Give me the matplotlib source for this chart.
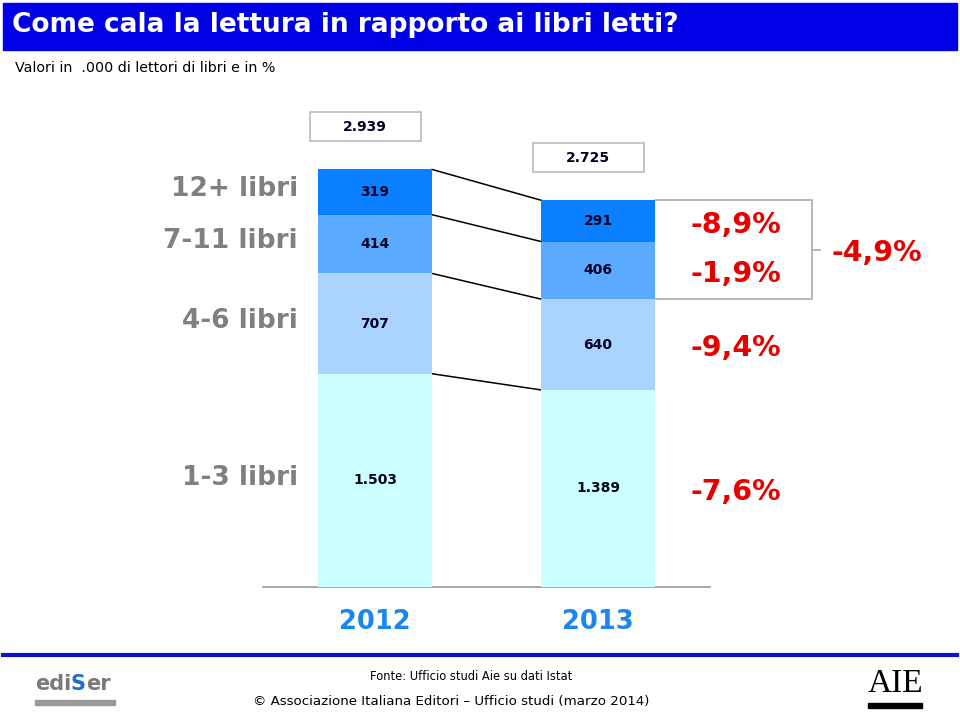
import matplotlib
matplotlib.use('Agg')
import matplotlib.pyplot as plt
from matplotlib.patches import Rectangle

# dati (migliaia di lettori)
categories = ['1-3 libri', '4-6 libri', '7-11 libri', '12+ libri']
years = ['2012', '2013']
v2012 = [1503, 707, 414, 319]
v2013 = [1389, 640, 406, 291]
totals = ['2.939', '2.725']
pct_labels = ['-7,6%', '-9,4%', '-1,9%', '-8,9%']
pct_top2 = '-4,9%'

colors = ['#CCFFFF', '#AAD4FF', '#5AAAFF', '#0A80FF']

W, H = 960, 714
fig = plt.figure(figsize=(W / 100, H / 100), dpi=100)

def fx(p):
    return p / W

def fy(p):
    return 1 - p / H

# scala: px per migliaio, baseline a 587 px dall'alto
k = 417 / 2939
ax = fig.add_axes([0, 0, 1, 1])
ax.set_xlim(0, W)
ax.set_ylim(-(H - 587) / k, 587 / k)
ax.axis('off')

xc = [375, 598]
bw = 114
data = [v2012, v2013]

cums = []
for i, vals in enumerate(data):
    bottom = 0
    c = []
    for j, v in enumerate(vals):
        ax.bar(xc[i], v, bottom=bottom, width=bw, color=colors[j], zorder=2)
        lab = '{:,}'.format(v).replace(',', '.')
        ax.text(xc[i], bottom + v / 2, lab, ha='center', va='center',
                fontsize=10, fontweight='bold', color='#000022', zorder=3)
        bottom += v
        c.append(bottom)
    cums.append(c)

# linee di collegamento
for j in range(4):
    ax.plot([xc[0] + bw / 2, xc[1] - bw / 2], [cums[0][j], cums[1][j]],
            color='black', lw=1.1, zorder=1)

# baseline
ax.plot([263, 710], [0, 0], color='#999999', lw=1.2, zorder=1)

# box dei totali
for i in range(2):
    cy = cums[i][-1] + 300
    ax.add_patch(Rectangle((xc[i] - 10 - 55.5, cy - 14.5 / k), 111, 29 / k,
                           facecolor='white', edgecolor='#BBBBBB', lw=1.2, zorder=2))
    ax.text(xc[i] - 10, cy, totals[i], ha='center', va='center',
            fontsize=10, fontweight='bold', color='#000022', zorder=3)

# etichette categorie a sinistra
b0 = 0
for j, v in enumerate(v2012):
    ax.text(298, b0 + v / 2 + 20, categories[j], ha='right', va='center',
            fontsize=19, fontweight='bold', color='#808080')
    b0 += v

# percentuali
b1 = 0
for j, v in enumerate(v2013):
    ax.text(736, b1 + v / 2 - 28, pct_labels[j], ha='center', va='center',
            fontsize=20.5, fontweight='bold', color='#E60000')
    b1 += v

# parentesi 12+ e 7-11
ytop = cums[1][3]
ybot = cums[1][1]
ax.plot([xc[1] + bw / 2, 812, 812, xc[1] + bw / 2], [ytop, ytop, ybot, ybot],
        color='#AAAAAA', lw=1.2, zorder=1)
ymid = (ytop + ybot) / 2
ax.plot([812, 820], [ymid, ymid], color='#AAAAAA', lw=1.2)
ax.text(877, ymid - 20, pct_top2, ha='center', va='center',
        fontsize=20.5, fontweight='bold', color='#E60000')

# anni
for i in range(2):
    ax.text(xc[i], -(622 - 587) / k, years[i], ha='center', va='center',
            fontsize=18.5, fontweight='bold', color='#1A86F0')

# barra del titolo
fig.patches.append(Rectangle((fx(3), fy(50)), fx(954), 47 / H, color='#0000E6',
                             transform=fig.transFigure, zorder=0))
fig.text(fx(12), fy(25), 'Come cala la lettura in rapporto ai libri letti?',
         color='white', fontweight='bold', fontsize=19, va='center', ha='left')
fig.text(fx(15), fy(68), 'Valori in  .000 di lettori di libri e in %',
         fontsize=10.3, va='center', ha='left')

# piede
fig.lines.append(plt.Line2D([fx(3), fx(957)], [fy(655), fy(655)], color='#1010CC',
                            lw=3, transform=fig.transFigure))
fig.text(fx(471), fy(676), 'Fonte: Ufficio studi Aie su dati Istat',
         fontsize=8.3, ha='center', va='center')
fig.text(fx(451), fy(701), '\u00a9 Associazione Italiana Editori \u2013 Ufficio studi (marzo 2014)',
         fontsize=9.6, ha='center', va='center')

# logo ediSer
fig.text(fx(35), fy(684), 'edi', fontsize=15, fontweight='bold',
         color='#7A7A7A', ha='left', va='center')
fig.text(fx(71), fy(684), 'S', fontsize=15, fontweight='bold',
         color='#1A6FD0', ha='left', va='center')
fig.text(fx(86), fy(684), 'er', fontsize=15, fontweight='bold',
         color='#7A7A7A', ha='left', va='center')
fig.patches.append(Rectangle((fx(35), fy(705)), fx(80), 5 / H, color='#999999',
                             transform=fig.transFigure))

# logo AIE
fig.text(fx(895), fy(684), 'AIE', fontsize=24, family='Liberation Serif',
         color='black', ha='center', va='center')
fig.patches.append(Rectangle((fx(868), fy(708)), fx(54), 5 / H, color='black',
                             transform=fig.transFigure))

fig.savefig('out.png', dpi=100)
